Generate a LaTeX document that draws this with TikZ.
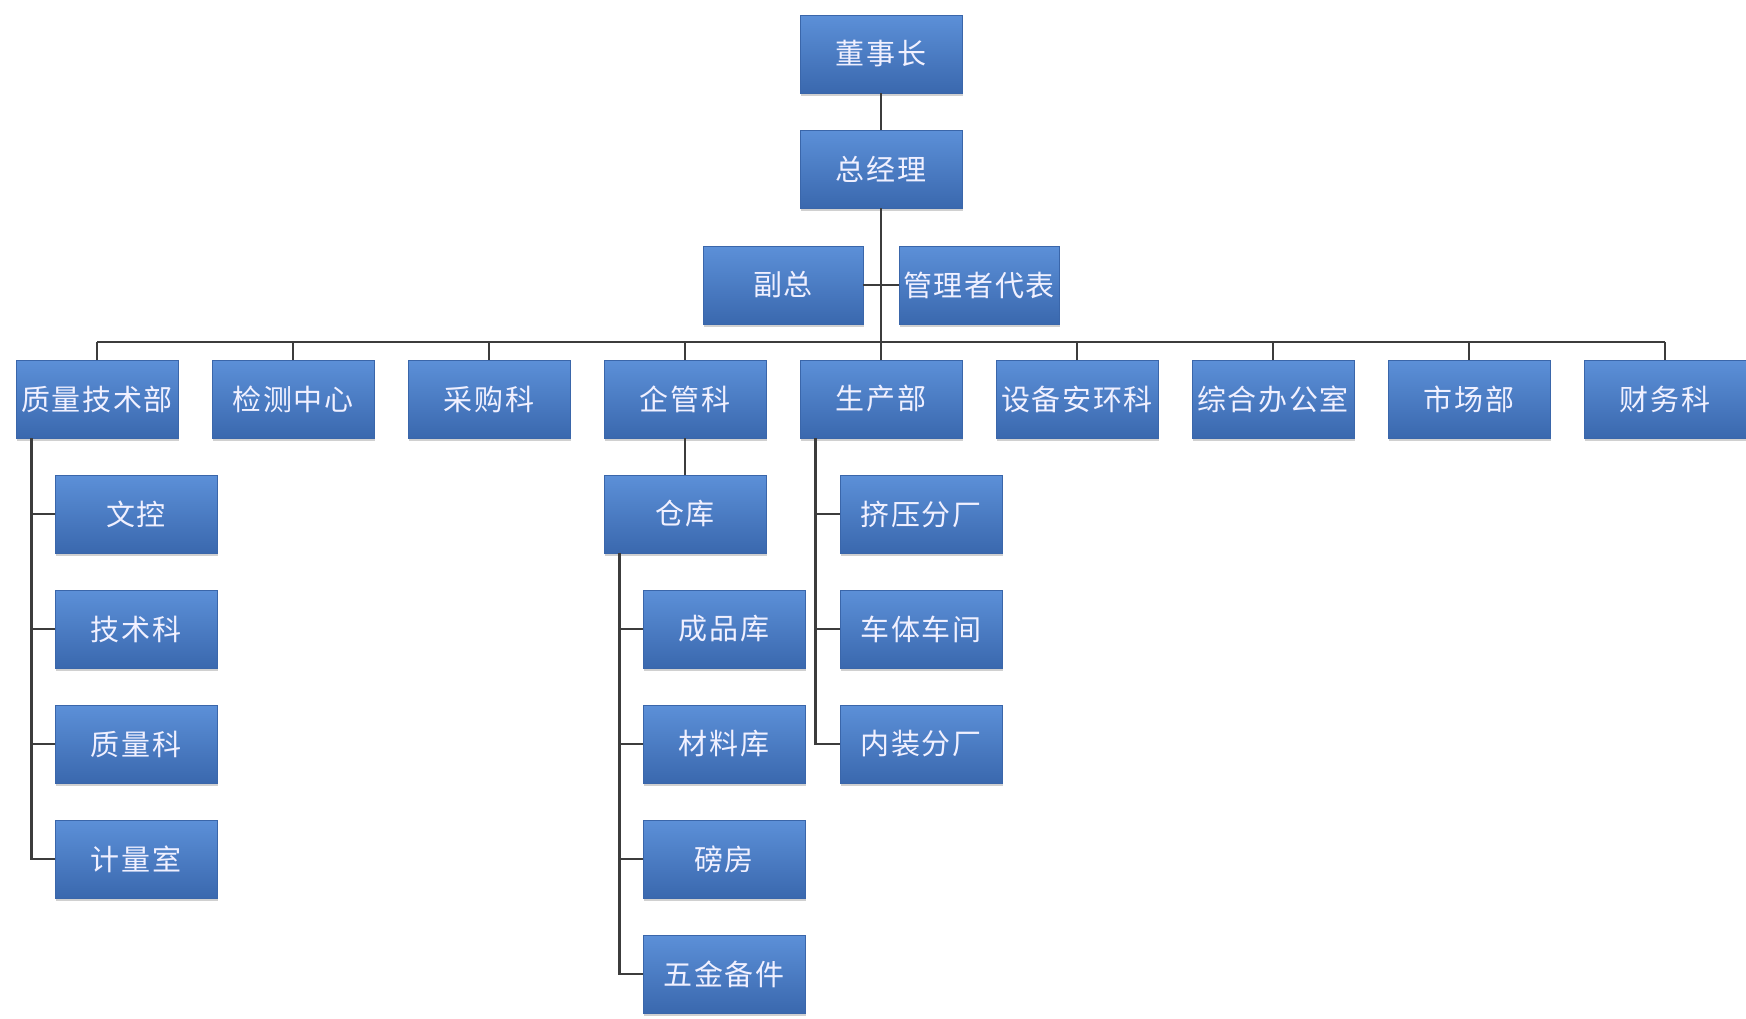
\documentclass[tikz,border=0pt]{standalone}
\usepackage{fontspec}
\newfontfamily\cjk{Noto Sans CJK SC}[LetterSpace=6]
\usetikzlibrary{shadows}
\definecolor{boxtop}{HTML}{5C90D8}
\definecolor{boxbot}{HTML}{3A68AE}
\definecolor{boxline}{HTML}{3A66AA}
\definecolor{wire}{HTML}{3C3C3C}
\tikzset{
  orgbox/.style={rectangle, minimum width=162pt, minimum height=78pt, inner sep=0pt,
    top color=boxtop, bottom color=boxbot, draw=boxline, line width=0.5pt,
    text=white!94!blue, font=\cjk\fontsize{29}{32}\selectfont,
    drop shadow={shadow xshift=1pt, shadow yshift=-3pt, opacity=0.3, fill=black!60}},
  wireline/.style={draw=wire, line width=2.6pt}
}
\begin{document}
\begin{tikzpicture}[x=1pt,y=-1pt]
\useasboundingbox[fill=white] (0,0) rectangle (1746,1018);
% top
\node[orgbox] (dsz) at (881,54) {董事长};
\node[orgbox] (zjl) at (881,169) {总经理};
\node[orgbox, minimum width=160pt] (fz) at (783,285) {副总};
\node[orgbox, minimum width=160pt] (glz) at (979,285) {管理者代表};
% departments
\node[orgbox] (d1) at (97,399) {质量技术部};
\node[orgbox] (d2) at (293,399) {检测中心};
\node[orgbox] (d3) at (489,399) {采购科};
\node[orgbox] (d4) at (685,399) {企管科};
\node[orgbox] (d5) at (881,399) {生产部};
\node[orgbox] (d6) at (1077,399) {设备安环科};
\node[orgbox] (d7) at (1273,399) {综合办公室};
\node[orgbox] (d8) at (1469,399) {市场部};
\node[orgbox] (d9) at (1665,399) {财务科};
% 质量技术部 children
\node[orgbox] (q1) at (136,514) {文控};
\node[orgbox] (q2) at (136,629) {技术科};
\node[orgbox] (q3) at (136,744) {质量科};
\node[orgbox] (q4) at (136,859) {计量室};
% 企管科 -> 仓库
\node[orgbox] (ck) at (685,514) {仓库};
\node[orgbox] (k1) at (724,629) {成品库};
\node[orgbox] (k2) at (724,744) {材料库};
\node[orgbox] (k3) at (724,859) {磅房};
\node[orgbox] (k4) at (724,974) {五金备件};
% 生产部 children
\node[orgbox] (s1) at (921,514) {挤压分厂};
\node[orgbox] (s2) at (921,629) {车体车间};
\node[orgbox] (s3) at (921,744) {内装分厂};
% connectors
\coordinate (bus) at (881,342);
\draw[wireline] (dsz.south) -- (zjl.north);
\draw[wireline] (zjl.south) -- (bus);
\draw[wireline] (fz.east) -- (glz.west);
\draw[wireline] (d1.north |- bus) -- (d9.north |- bus);
\foreach \d in {d1,d2,d3,d4,d5,d6,d7,d8,d9}
  \draw[wireline] (\d.north |- bus) -- (\d.north);
\foreach \c in {q1,q2,q3,q4}
  \draw[wireline] ([xshift=16pt]d1.south west) |- (\c.west);
\draw[wireline] (d4.south) -- (ck.north);
\foreach \c in {k1,k2,k3,k4}
  \draw[wireline] ([xshift=16pt]ck.south west) |- (\c.west);
\foreach \c in {s1,s2,s3}
  \draw[wireline] ([xshift=16pt]d5.south west) |- (\c.west);
\end{tikzpicture}
\end{document}
